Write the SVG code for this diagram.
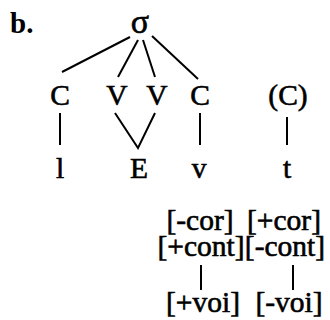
<svg xmlns="http://www.w3.org/2000/svg" width="330" height="320" viewBox="0 0 330 320">
  <style>
    text { font-family: "Liberation Serif", "Times New Roman", serif; fill: #000; stroke: #000; stroke-width: 0.6; text-anchor: middle; }
    .seg { font-size: 29.5px; }
    .feat { font-size: 29.5px; }
    .edge { stroke: #000; stroke-width: 2; fill: none; stroke-linecap: butt; }
  </style>
  <rect width="330" height="320" fill="#fff"/>

  <text x="10" y="33" font-size="29" font-weight="bold" style="text-anchor:start;stroke-width:0">b.</text>

  <!-- syllable node -->
  <g id="sigma"><text x="140" y="33" font-size="34">σ</text></g>

  <!-- skeletal tier -->
  <g id="c1"><text class="seg" x="60" y="105">C</text></g>
  <g id="v1"><text class="seg" x="117" y="105">V</text></g>
  <g id="v2"><text class="seg" x="157" y="105">V</text></g>
  <g id="c2"><text class="seg" x="200" y="105">C</text></g>
  <g id="c3"><text class="seg" x="288" y="105">(C)</text></g>

  <!-- segmental tier -->
  <g id="seg-l"><text class="seg" x="60" y="178">l</text></g>
  <g id="seg-E"><text class="seg" x="139" y="178">E</text></g>
  <g id="seg-v"><text class="seg" x="199" y="178">v</text></g>
  <g id="seg-t"><text class="seg" x="287" y="178">t</text></g>

  <!-- feature bundles -->
  <g id="feat-v">
    <text class="feat" x="200" y="230">[-cor]</text>
    <text class="feat" x="201" y="256">[+cont]</text>
  </g>
  <g id="feat-t">
    <text class="feat" x="284" y="230">[+cor]</text>
    <text class="feat" x="285" y="256">[-cont]</text>
  </g>
  <g id="voi-v"><text class="feat" x="203" y="312">[+voi]</text></g>
  <g id="voi-t"><text class="feat" x="289" y="312">[-voi]</text></g>

  <!-- association lines -->
  <g id="connectors" class="edge">
    <line class="edge" x1="130" y1="37" x2="62" y2="72"/>
    <line class="edge" x1="138" y1="40" x2="118" y2="77"/>
    <line class="edge" x1="143" y1="40" x2="155" y2="77"/>
    <line class="edge" x1="152" y1="36" x2="198" y2="79"/>
    <line class="edge" x1="60" y1="113" x2="60" y2="145"/>
    <polyline class="edge" points="115,113 138,148 155,113"/>
    <line class="edge" x1="200" y1="113" x2="200" y2="145"/>
    <line class="edge" x1="287" y1="117" x2="287" y2="145"/>
    <line class="edge" x1="201" y1="265" x2="201" y2="290"/>
    <line class="edge" x1="293" y1="265" x2="293" y2="290"/>
  </g>
</svg>
